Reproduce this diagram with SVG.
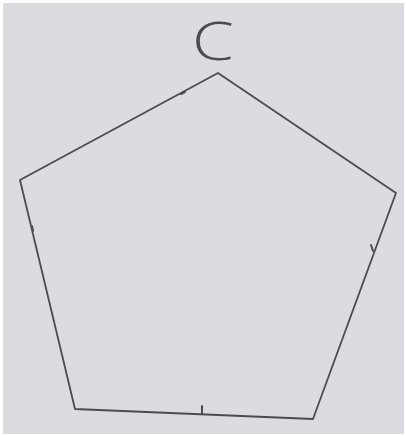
<svg xmlns="http://www.w3.org/2000/svg" width="406" height="436" viewBox="0 0 406 436">
  <style>
    .edge { fill: none; stroke: #4e4a54; stroke-width: 1.8; stroke-linecap: round; stroke-linejoin: round; }
    .tick { fill: none; stroke: #4e4a54; stroke-width: 2; stroke-linecap: round; }
    .label { font-family: "Open Sans", "Liberation Sans", sans-serif; font-weight: 300; font-size: 54px; fill: #4e4a54; }
  </style>
  <rect x="0" y="0" width="406" height="436" fill="#ffffff"/>
  <rect x="3" y="3" width="401" height="431" fill="#dddbe0"/>
  <g id="connectors">
    <path class="edge" d="M218,73 L20,180 L75,409 L313,419 L396,193 Z"/>
    <path class="tick" d="M181,94 L185,92"/>
    <path class="tick" d="M32,226 L33,231"/>
    <path class="tick" d="M371,245 L373,251"/>
    <path class="tick" d="M202,406 L202,414"/>
  </g>
  <g id="label-C">
    <text class="label" text-anchor="middle" transform="translate(213,60) scale(1.25,1)">C</text>
  </g>
</svg>
